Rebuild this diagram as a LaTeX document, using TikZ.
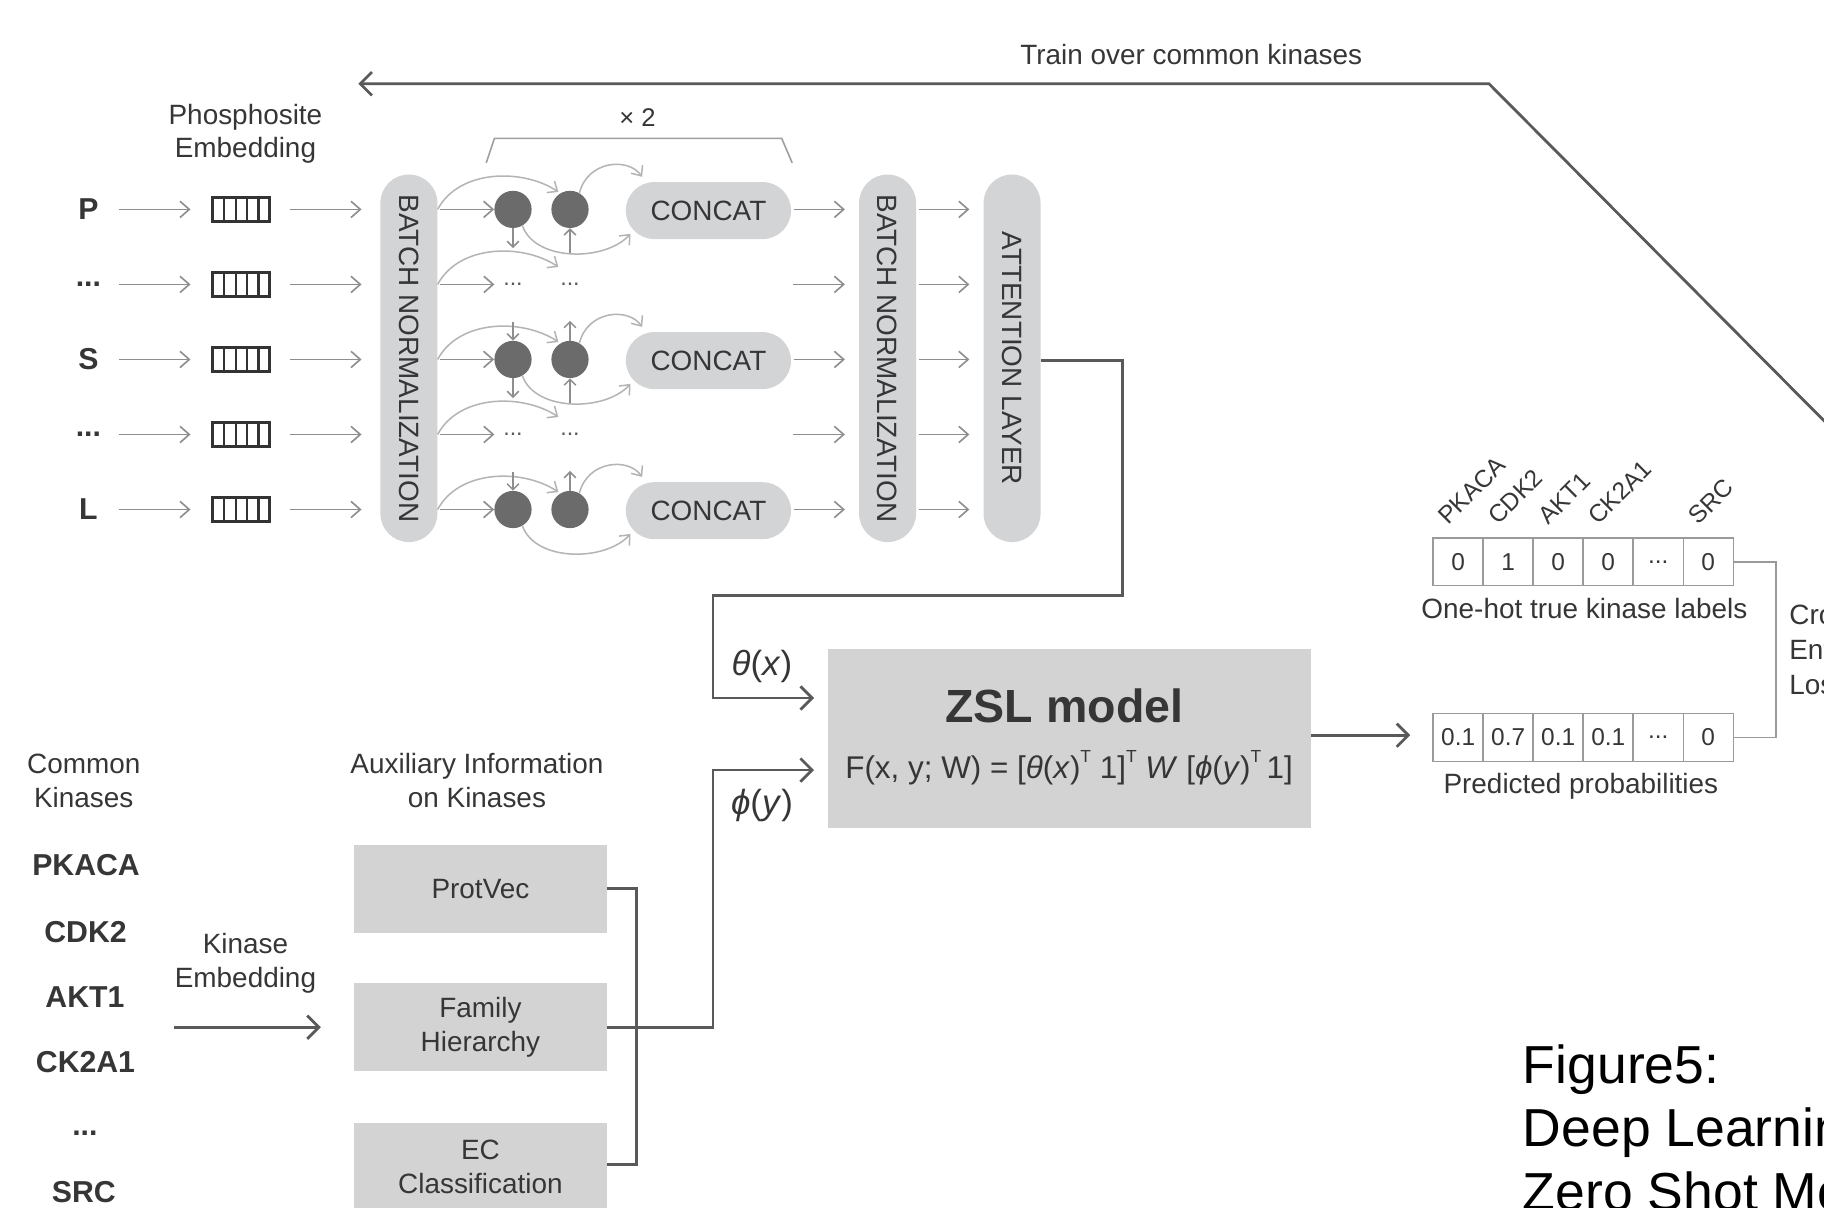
\documentclass[tikz,border=0pt]{standalone}
\usepackage{fontspec}
\setmainfont{Liberation Sans}
\usetikzlibrary{arrows.meta}
\definecolor{txt}{HTML}{363636}
\definecolor{pill}{HTML}{D3D4D6}
\definecolor{boxf}{HTML}{D3D3D4}
\definecolor{gline}{HTML}{8E8E8E}
\definecolor{cline}{HTML}{B4B4B4}
\definecolor{dline}{HTML}{595959}
\definecolor{dotc}{HTML}{6B6B6B}
\definecolor{embc}{HTML}{333333}
\definecolor{vecc}{HTML}{9A9A9A}
\newcommand\fsz[2]{\fontsize{#1}{#2}\selectfont}
\newcommand\tdots{...}
\newcommand\supT{\raisebox{0.5em}{\fontsize{15}{15}\selectfont T}}
\begin{document}
\begin{tikzpicture}[x=1pt,y=-1pt,
  lab/.style={font=\fsz{24}{29}, text=txt, align=center, inner sep=0pt},
  rowlab/.style={font=\fsz{26}{30}\bfseries, text=txt, inner sep=0pt},
  pillbox/.style={rectangle, rounded corners=24.5pt, fill=pill, minimum width=49pt, minimum height=316pt, inner sep=0pt},
  concat/.style={rectangle, rounded corners=24.5pt, fill=pill, minimum width=142pt, minimum height=49pt, inner sep=0pt, font=\fsz{24}{29}, text=txt},
  emb/.style={draw=embc, line width=2.4pt, minimum width=49pt, minimum height=21pt, inner sep=0pt},
  cell/.style={circle, fill=dotc, minimum size=32pt, inner sep=0pt},
  garr/.style={draw=gline, line width=1.4pt, -{Straight Barb[length=8pt,width=14pt]}},
  carr/.style={draw=cline, line width=1.3pt, -{Straight Barb[length=7pt,width=12pt]}},
  varr/.style={draw=gline, line width=1.3pt, -{Straight Barb[length=5pt,width=10pt]}},
  darr/.style={draw=dline, line width=2.4pt, -{Straight Barb[length=10pt,width=20pt]}},
  dl/.style={draw=dline, line width=2.2pt},
  gbox/.style={fill=boxf, minimum width=218pt, minimum height=76pt, inner sep=0pt, font=\fsz{24}{29}, text=txt, align=center},
  vcell/.style={draw=vecc, line width=1.3pt, minimum width=43pt, minimum height=41pt, inner sep=0pt, font=\fsz{21}{24}, text=txt},
  klab/.style={font=\fsz{21}{25}, text=txt, rotate=45, anchor=base west, inner sep=0pt},
  biglab/.style={font=\fsz{26}{30}\bfseries, text=txt, anchor=base, inner sep=0pt}
]
\useasboundingbox (0,0) rectangle (1568,1038);
\clip (0,0) rectangle (1568,1038);
\fill[white] (0,0) rectangle (1568,1038);

% ---------- top: training arrow ----------
\coordinate (trainturn) at (1280,72);
\coordinate (trainend) at (308,72);
\coordinate (trainfar) at (1620,414);
\draw[darr] (trainfar) -- (trainturn) -- (trainend);
\node[lab] (trainlab) at (1024,47) {Train over common kinases};

% ---------- phosphosite part ----------
\node[lab] (phlab) at (211,115) {Phosphosite\\Embedding};

\node[pillbox] (bn1) at (351.5,308) {};
\node[lab, rotate=-90] (bn1t) at (bn1) {BATCH NORMALIZATION};
\node[pillbox] (bn2) at (763,308) {};
\node[lab, rotate=-90] (bn2t) at (bn2) {BATCH NORMALIZATION};
\node[pillbox] (att) at (870,308) {};
\node[lab, rotate=-90] (attt) at (att) {ATTENTION LAYER};

\foreach \rr/\y/\t in {1/180/P,2/244.5/\tdots,3/309/S,4/373.5/\tdots,5/438/L}{
  \node[rowlab] (l\rr) at (76,\y) {\t};
  \node[emb] (e\rr) at (207.5,\y) {};
  \foreach \k in {1,2,3,4} \draw[embc, line width=2pt] (183+\k*9.8,\y-10) -- (183+\k*9.8,\y+10);
  \draw[garr, shorten <=26pt, shorten >=18pt] (l\rr.center) -- (e\rr.west);
  \draw[garr, shorten <=16pt, shorten >=16pt] (e\rr.east) -- (bn1.west |- e\rr.east);
  \draw[garr, shorten <=2pt, shorten >=12pt] (bn2.east |- 0,\y) -- (att.west |- 0,\y);
  \draw[carr] (bn1.east |- 0,\y) .. controls (395,\y-35) and (450,\y-35) .. (480,\y-15);
}

\foreach \rr/\y in {2/244.5,4/373.5}{
  \coordinate (s\rr) at (425,\y);
  \coordinate (d\rr) at (680,\y);
  \draw[garr, shorten <=2pt] (bn1.east |- s\rr) -- (s\rr);
  \node[font=\fsz{20}{24}, text=dline, inner sep=0pt] (da\rr) at (441,\y) {\tdots};
  \node[font=\fsz{20}{24}, text=dline, inner sep=0pt] (db\rr) at (490,\y) {\tdots};
  \draw[garr, shorten <=2pt, shorten >=12pt] (d\rr) -- (bn2.west |- d\rr);
}

\foreach \rr/\y in {1/180,3/309,5/438}{
  \node[cell] (ca\rr) at (441,\y) {};
  \node[cell] (cb\rr) at (490,\y) {};
  \node[concat] (k\rr) at (609,\y+1) {CONCAT};
  \draw[garr, shorten <=2pt] (bn1.east |- ca\rr) -- (ca\rr.west);
  \draw[carr] (cb\rr.60) .. controls (505,\y-42) and (540,\y-45) .. (552,\y-28);
  \draw[carr] (ca\rr.300) .. controls (460,\y+45) and (520,\y+45) .. (542,\y+21);
  \draw[garr, shorten <=2pt, shorten >=12pt] (k\rr.east |- ca\rr) -- (bn2.west |- ca\rr);
}
\foreach \rr in {1,3}{
  \draw[varr] (ca\rr.south) -- ++(0,17);
  \draw[varr] ([yshift=-21pt]cb\rr.south) -- (cb\rr.south);
}
\foreach \rr in {3,5}{
  \draw[varr] ([yshift=16pt]ca\rr.north) -- (ca\rr.north);
  \draw[varr] (cb\rr.north) -- ++(0,-17);
}

% x2 bracket
\coordinate (brA) at (418,140);
\coordinate (brB) at (425,119);
\coordinate (brC) at (672,119);
\coordinate (brD) at (681,140);
\draw[draw=gline!85, line width=1.4pt] (brA) -- (brB) -- (brC) -- (brD);
\node[font=\fsz{22}{26}, text=txt, inner sep=0pt] (x2) at (548,101) {× 2};

% ---------- ZSL model ----------
\node[fill=boxf, minimum width=415pt, minimum height=154pt, inner sep=0pt] (zsl) at (919.5,635) {};
\node[font=\fsz{40}{48}\bfseries, text=txt, inner sep=0pt] (zslt) at (915,607) {ZSL model};
\node[font=\fsz{27}{32}, text=txt, inner sep=0pt] (zslf) at (919,660)
  {F(x, y; W) = [\textit{θ}(\textit{x})\supT\ 1]\supT\ \textit{W} [\textit{ϕ}(\textit{y})\supT\,1]};

\draw[darr, shorten >=12pt] (att.east |- 0,310) -- (965,310) -- (965,512) -- (613,512) -- (613,600) -- (zsl.west |- 0,600);
\node[font=\fsz{30}{34}, text=txt, inner sep=0pt] (thetalab) at (655,573) {\textit{θ}(\textit{x})};

% ---------- auxiliary info ----------
\node[lab] (comlab) at (72,671) {Common\\Kinases};
\node[lab] (auxlab) at (410,671) {Auxiliary Information\\on Kinases};
\node[lab] (kelab) at (211,828) {Kinase\\Embedding};
\node[biglab] (kA) at (74,753) {PKACA};
\node[biglab] (kB) at (73.5,810) {CDK2};
\node[biglab] (kC) at (73,866) {AKT1};
\node[biglab] (kD) at (73.5,922) {CK2A1};
\node[biglab] (kE) at (73,976) {\tdots};
\node[biglab] (kF) at (72,1034) {SRC};
\coordinate (kestart) at (150,883);
\node[gbox] (prot) at (413,764) {ProtVec};
\node[gbox] (fam) at (413,883) {Family\\Hierarchy};
\node[gbox] (ec) at (413,1003) {EC\\Classification};
\draw[darr, shorten >=28pt] (kestart) -- (fam.west);
\draw[dl] (prot.east) -- (547,764) -- (547,1001) -- (ec.east |- 0,1001);
\draw[darr, shorten >=12pt] (fam.east) -- (613,883) -- (613,662) -- (zsl.west |- 0,662);
\node[font=\fsz{30}{34}, text=txt, inner sep=0pt] (philab) at (655,692) {\textit{ϕ}(\textit{y})};

% ---------- output vectors ----------
\foreach \i/\a/\b in {1/0/0.1, 2/1/0.7, 3/0/0.1, 4/0/0.1, 5/\tdots/\tdots, 6/0/0}{
  \node[vcell] (oh\i) at (1253.5+43*\i-43,483) {\a};
  \node[vcell] (pv\i) at (1253.5+43*\i-43,634) {\b};
}
\draw[darr, shorten >=19pt] (zsl.east |- 0,632) -- (pv1.west |- 0,632);
\node[klab] (kl1) at (1245,452) {PKACA};
\node[klab] (kl2) at (1288,452) {CDK2};
\node[klab] (kl3) at (1331,452) {AKT1};
\node[klab] (kl4) at (1374,452) {CK2A1};
\node[klab] (kl6) at (1460,452) {SRC};
\node[lab] (ohlab) at (1362,523) {One-hot true kinase labels};
\node[lab] (pvlab) at (1359,676) {Predicted probabilities};
\draw[draw=vecc, line width=1.5pt] (oh6.east) -- (1527,483) -- (1527,634) -- (pv6.east);
\node[font=\fsz{24}{30}, text=txt, anchor=base west, inner sep=0pt] (ce1) at (1538,537) {Cross};
\node[font=\fsz{24}{30}, text=txt, anchor=base west, inner sep=0pt] (ce2) at (1538,567) {Entropy};
\node[font=\fsz{24}{30}, text=txt, anchor=base west, inner sep=0pt] (ce3) at (1538,597) {Loss};

% ---------- caption ----------
\node[font=\fsz{46}{55}, text=black, anchor=base west, inner sep=0pt] (cap1) at (1309,931) {Figure5:};
\node[font=\fsz{46}{55}, text=black, anchor=base west, inner sep=0pt] (cap2) at (1309,986) {Deep Learning};
\node[font=\fsz{46}{55}, text=black, anchor=base west, inner sep=0pt] (cap3) at (1309,1041) {Zero Shot Model};
\end{tikzpicture}
\end{document}
